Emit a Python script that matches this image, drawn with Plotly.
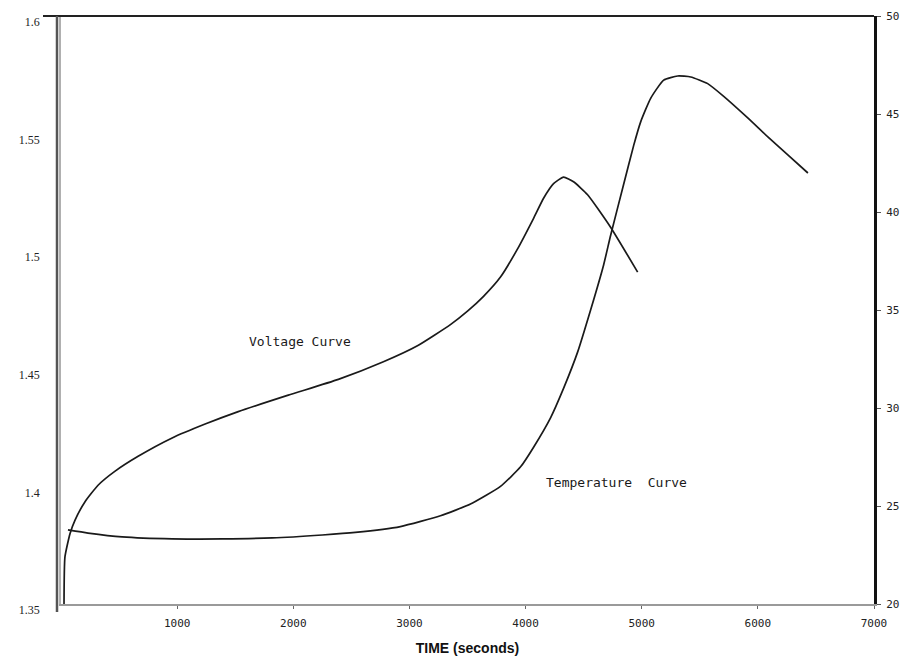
import plotly.graph_objects as go

# Voltage curve (left axis)
volt_time = [26, 34, 78, 121, 207, 319, 466, 664, 957, 1241, 1526, 1957, 2388, 2776,
             3069, 3353, 3500, 3638, 3784, 3931, 4069, 4155, 4241, 4327, 4413, 4534, 4732, 4965]
volt_val = [1.350, 1.370, 1.380, 1.3857, 1.3935, 1.4005, 1.4065, 1.4128, 1.4206, 1.4265, 1.4318,
            1.4388, 1.4455, 1.4530, 1.4598, 1.4688, 1.4745, 1.4808, 1.4890, 1.5010,
            1.5140, 1.5225, 1.5287, 1.5315, 1.5295, 1.5240, 1.5102, 1.4911]

# Temperature curve (right axis)
temp_time = [60, 233, 526, 957, 1388, 1819, 2250, 2534, 2922, 3267, 3526, 3784, 3957, 4069,
             4215, 4327, 4448, 4560, 4672, 4732, 4844, 4931, 4991, 5077, 5189, 5310, 5422,
             5568, 5706, 5913, 6086, 6258, 6431]
temp_val = [23.78, 23.62, 23.42, 23.32, 23.32, 23.37, 23.52, 23.65, 23.95, 24.50, 25.10, 26.00,
            27.00, 28.00, 29.50, 31.00, 32.85, 35.00, 37.30, 38.80, 41.40, 43.40, 44.60, 45.80,
            46.73, 46.94, 46.89, 46.55, 45.90, 44.80, 43.83, 42.91, 41.99]

x_ticks = [1000, 2000, 3000, 4000, 5000, 6000, 7000]
left_ticks = [1.35, 1.4, 1.45, 1.5, 1.55, 1.6]
left_labels = ["1.35", "1.4", "1.45", "1.5", "1.55", "1.6"]
right_ticks = [20, 25, 30, 35, 40, 45, 50]

LINE = dict(color="#1a1a1a", width=1.7)

fig = go.Figure()
fig.add_trace(go.Scatter(x=volt_time, y=volt_val, mode="lines", line=dict(LINE, shape="spline", smoothing=0.5),
                         yaxis="y", showlegend=False))
fig.add_trace(go.Scatter(x=temp_time, y=temp_val, mode="lines", line=dict(LINE, shape="spline", smoothing=0.5),
                         yaxis="y2", showlegend=False))

W, H = 909, 656
ml, mr, mt, mb = 61, 35, 16, 52
pw, ph = W - ml - mr, H - mt - mb

fig.update_layout(
    width=W, height=H,
    margin=dict(l=ml, r=mr, t=mt, b=mb, pad=0, autoexpand=False),
    paper_bgcolor="white", plot_bgcolor="white",
    xaxis=dict(range=[0, 7000], tickvals=x_ticks, ticktext=[str(v) for v in x_ticks], automargin=False,
               showgrid=False, zeroline=False, showline=True, linecolor="#9a9a9a", linewidth=2,
               ticks="outside", ticklen=3, tickcolor="#666", ticklabelstandoff=5,
               tickfont=dict(family="DejaVu Sans Mono", size=11, color="#222"),
               title=dict(text="<b>TIME (seconds)</b>", font=dict(family="Liberation Sans", size=14, color="#111"),
                          standoff=14)),
    yaxis=dict(range=[1.35, 1.6], tickvals=left_ticks, ticktext=left_labels, automargin=False,
               showgrid=False, zeroline=False, showline=True, linecolor="#b0b0b0", linewidth=1.5,
               ticks="outside", ticklen=0, ticklabelstandoff=17, ticklabelshift=6,
               tickfont=dict(family="Liberation Serif", size=12, color="#222")),
    yaxis2=dict(range=[20, 50], tickvals=right_ticks, ticktext=[str(v) for v in right_ticks], automargin=False,
                overlaying="y", side="right", showgrid=False, zeroline=False,
                showline=True, linecolor="#111", linewidth=3,
                ticks="outside", ticklen=4, tickcolor="#555", ticklabelstandoff=3,
                tickfont=dict(family="DejaVu Sans Mono", size=11, color="#222")),
    shapes=[
        dict(type="line", xref="paper", yref="paper", x0=-18 / pw, x1=1, y0=1, y1=1,
             line=dict(color="#222", width=2)),
        dict(type="line", xref="paper", yref="paper", x0=-4 / pw, x1=-4 / pw, y0=-8 / ph, y1=1,
             line=dict(color="#555", width=2.5)),
    ],
    annotations=[
        dict(text="Voltage Curve", xref="paper", yref="paper", xanchor="center", yanchor="middle",
             x=(300 - ml) / pw, y=1 - (341 - mt) / ph, showarrow=False,
             font=dict(family="DejaVu Sans Mono", size=13, color="#1a1a1a")),
        dict(text="Temperature  Curve", xref="paper", yref="paper", xanchor="center", yanchor="middle",
             x=(616 - ml) / pw, y=1 - (482 - mt) / ph, showarrow=False,
             font=dict(family="DejaVu Sans Mono", size=13, color="#1a1a1a")),
    ],
)

fig.write_html("out.html")
